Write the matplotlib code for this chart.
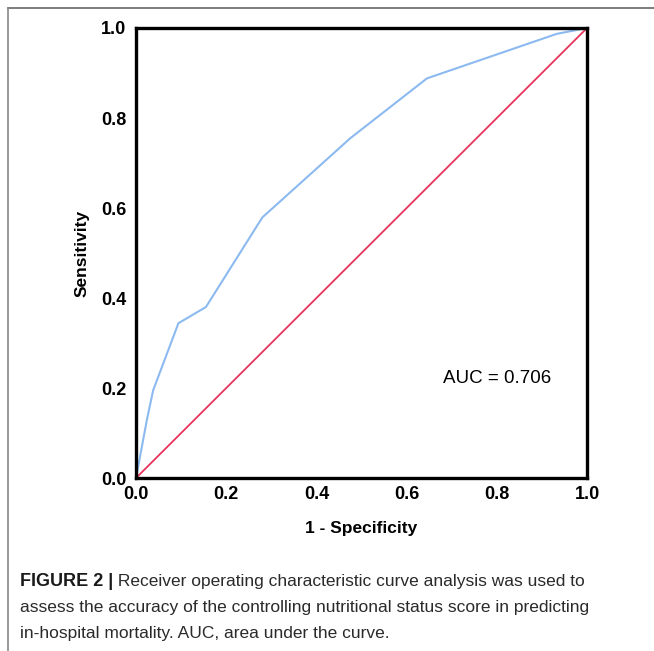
import matplotlib
matplotlib.use('Agg')
import matplotlib.pyplot as plt
from matplotlib.lines import Line2D

# ROC curve points
fpr = [0.0, 0.024, 0.038, 0.094, 0.155, 0.280, 0.475, 0.645, 0.933, 1.0]
tpr = [0.0, 0.129, 0.195, 0.344, 0.380, 0.579, 0.755, 0.888, 0.987, 1.0]
ref_line = [0.0, 1.0]
ticks = [0.0, 0.2, 0.4, 0.6, 0.8, 1.0]
tick_labels = ['0.0', '0.2', '0.4', '0.6', '0.8', '1.0']
auc_text = 'AUC = 0.706'

fig = plt.figure(figsize=(6.54, 6.51), dpi=100)
ax = fig.add_axes([0.208, 0.2657, 0.6896, 0.6913])

ax.plot(fpr, tpr, color='#8cbaf0', lw=1.5)
ax.plot(ref_line, ref_line, color='#e8335c', lw=1.3)

ax.set_xlim(0, 1)
ax.set_ylim(0, 1)
ax.set_xticks(ticks)
ax.set_yticks(ticks)
ax.set_xticklabels(tick_labels, fontfamily='Liberation Sans', fontweight='bold', fontsize=13)
ax.set_yticklabels(tick_labels, fontfamily='Liberation Sans', fontweight='bold', fontsize=13)
ax.tick_params(length=0)
ax.tick_params(axis='x', pad=6)
ax.tick_params(axis='y', pad=7)
for s in ax.spines.values():
    s.set_linewidth(2.4)
    s.set_color('black')

ax.set_xlabel('1 - Specificity', fontfamily='Liberation Sans', fontweight='bold', fontsize=12.5, labelpad=13)
ax.set_ylabel('Sensitivity', fontfamily='Liberation Sans', fontweight='bold', fontsize=12.5, labelpad=8)

ax.text(0.80, 0.222, auc_text, fontfamily='Liberation Sans', fontsize=13.5, ha='center', va='center')

# border lines of the figure panel
fig.add_artist(Line2D([8 / 654, 1], [1 - 8 / 651, 1 - 8 / 651], color='#666666', lw=1.2))
fig.add_artist(Line2D([8 / 654, 8 / 654], [0, 1 - 8 / 651], color='#888888', lw=1.2))

# caption
cap_font = 'Liberation Sans'
cap_size = 12.5
y1 = 1 - 586 / 651
t = fig.text(20 / 654, y1, 'FIGURE 2 |', fontfamily=cap_font, fontweight='bold',
             fontsize=13, color='#1a1a1a', va='baseline')
bb = t.get_window_extent(renderer=fig.canvas.get_renderer())
x_end = fig.transFigure.inverted().transform((bb.x1, 0))[0]
fig.text(x_end, y1, ' Receiver operating characteristic curve analysis was used to',
         fontfamily=cap_font, fontsize=cap_size, color='#2a2a2a', va='baseline')
fig.text(20 / 654, 1 - 612 / 651,
         'assess the accuracy of the controlling nutritional status score in predicting',
         fontfamily=cap_font, fontsize=cap_size, color='#2a2a2a', va='baseline')
fig.text(20 / 654, 1 - 638 / 651,
         'in-hospital mortality. AUC, area under the curve.',
         fontfamily=cap_font, fontsize=cap_size, color='#2a2a2a', va='baseline')

fig.savefig('out.png', dpi=100)
